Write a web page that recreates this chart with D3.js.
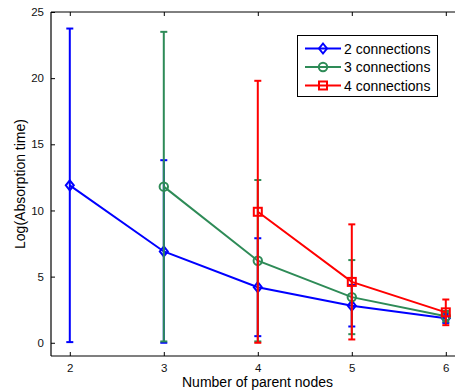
<!DOCTYPE html>
<html lang="en">
<head>
    <meta charset="UTF-8">
    <title>Absorption time vs parent nodes</title>
    <script src="https://d3js.org/d3.v7.min.js"></script>
    <style>
        body { margin: 0; background: white; font-family: "Liberation Sans", Arial, sans-serif; }
        svg { display: block; }
    </style>
</head>
<body>
    <svg width="455" height="391"></svg>

    <script>
        // data
        const seriesNames = ["2 connections", "3 connections", "4 connections"];
        const seriesColors = ["#0000ff", "#2e8b57", "#ff0000"];
        const markerTypes = ["diamond", "circle", "square"];

        const xs2 = [2, 3, 4, 5, 6];
        const mean2 = [11.9, 6.9, 4.2, 2.8, 1.85];
        const err2 = [11.85, 6.9, 3.7, 1.57, 0.35];

        const xs3 = [3, 4, 5, 6];
        const mean3 = [11.8, 6.2, 3.45, 2.0];
        const err3 = [11.7, 6.1, 2.8, 0.4];

        const xs4 = [4, 5, 6];
        const mean4 = [9.9, 4.6, 2.3];
        const err4 = [9.9, 4.35, 0.97];

        const xTicks = [2, 3, 4, 5, 6];
        const yTicks = [0, 5, 10, 15, 20, 25];

        const series = [
            { xs: xs2, mean: mean2, err: err2 },
            { xs: xs3, mean: mean3, err: err3 },
            { xs: xs4, mean: mean4, err: err4 }
        ];

        const svg = d3.select("svg");
        const mLeft = 51, mTop = 12, mBottom = 356;
        const x = d3.scaleLinear().domain([1.8, 6.2]).range([mLeft, mLeft + 413.6]);
        const y = d3.scaleLinear().domain([-1, 25]).range([mBottom, mTop]);

        // axes box (right side is off-canvas)
        svg.append("line").attr("x1", mLeft).attr("x2", 470).attr("y1", mBottom).attr("y2", mBottom)
            .attr("stroke", "black").attr("stroke-width", 1.2);
        svg.append("line").attr("x1", mLeft).attr("x2", 470).attr("y1", mTop).attr("y2", mTop)
            .attr("stroke", "black").attr("stroke-width", 1);
        svg.append("line").attr("x1", mLeft).attr("x2", mLeft).attr("y1", mTop).attr("y2", mBottom)
            .attr("stroke", "black").attr("stroke-width", 1.2);

        const axisX = svg.append("g").attr("transform", `translate(0,${mBottom})`)
            .call(d3.axisBottom(x).tickValues(xTicks).tickSize(-4).tickPadding(8).tickFormat(d3.format("d")));
        const axisXTop = svg.append("g").attr("transform", `translate(0,${mTop})`)
            .call(d3.axisTop(x).tickValues(xTicks).tickSize(-4).tickFormat(""));
        const axisY = svg.append("g").attr("transform", `translate(${mLeft},0)`)
            .call(d3.axisLeft(y).tickValues(yTicks).tickSize(-4).tickPadding(7));
        [axisX, axisXTop, axisY].forEach(g => {
            g.select(".domain").remove();
            g.selectAll("text").attr("font-size", 11.5).attr("font-family", "Liberation Sans, Arial, sans-serif").attr("fill", "#111");
        });

        svg.append("text").attr("x", 257.5).attr("y", 386.5).attr("text-anchor", "middle")
            .attr("font-size", 14).text("Number of parent nodes");
        svg.append("text").attr("transform", "translate(24.5,184) rotate(-90)").attr("text-anchor", "middle")
            .attr("font-size", 14).text("Log(Absorption time)");

        function drawMarker(g, type, cx, cy, color) {
            if (type === "diamond") {
                g.append("path").attr("d", `M${cx},${cy - 5}L${cx + 4},${cy}L${cx},${cy + 5}L${cx - 4},${cy}Z`)
                    .attr("fill", "none").attr("stroke", color).attr("stroke-width", 2);
            } else if (type === "circle") {
                g.append("circle").attr("cx", cx).attr("cy", cy).attr("r", 4.2)
                    .attr("fill", "none").attr("stroke", color).attr("stroke-width", 2);
            } else {
                g.append("rect").attr("x", cx - 4).attr("y", cy - 4).attr("width", 8).attr("height", 8)
                    .attr("fill", "none").attr("stroke", color).attr("stroke-width", 2);
            }
        }

        const line = d3.line().x(d => x(d[0])).y(d => y(d[1]));

        series.forEach((s, i) => {
            const color = seriesColors[i];
            const g = svg.append("g");
            const pts = s.xs.map((v, j) => [v, s.mean[j], s.err[j]]);

            // error bars
            pts.forEach(p => {
                const px = x(p[0]);
                g.append("line").attr("x1", px).attr("x2", px)
                    .attr("y1", y(p[1] - p[2])).attr("y2", y(p[1] + p[2]))
                    .attr("stroke", color).attr("stroke-width", 2);
                [p[1] - p[2], p[1] + p[2]].forEach(v => {
                    g.append("line").attr("x1", px - 3.5).attr("x2", px + 3.5)
                        .attr("y1", y(v)).attr("y2", y(v))
                        .attr("stroke", color).attr("stroke-width", 2);
                });
            });

            g.append("path").datum(pts).attr("d", line)
                .attr("fill", "none").attr("stroke", color).attr("stroke-width", 2);

            pts.forEach(p => drawMarker(g, markerTypes[i], x(p[0]), y(p[1]), color));
        });

        // legend
        const lg = svg.append("g");
        lg.append("rect").attr("x", 297.5).attr("y", 35.5).attr("width", 140).attr("height", 61)
            .attr("fill", "white").attr("stroke", "black").attr("stroke-width", 1);
        seriesNames.forEach((name, i) => {
            const ly = 48.5 + i * 18.5;
            lg.append("line").attr("x1", 305).attr("x2", 341).attr("y1", ly).attr("y2", ly)
                .attr("stroke", seriesColors[i]).attr("stroke-width", 2);
            drawMarker(lg, markerTypes[i], 323, ly, seriesColors[i]);
            lg.append("text").attr("x", 344).attr("y", ly + 5).attr("font-size", 14).text(name);
        });
    </script>
</body>
</html>
